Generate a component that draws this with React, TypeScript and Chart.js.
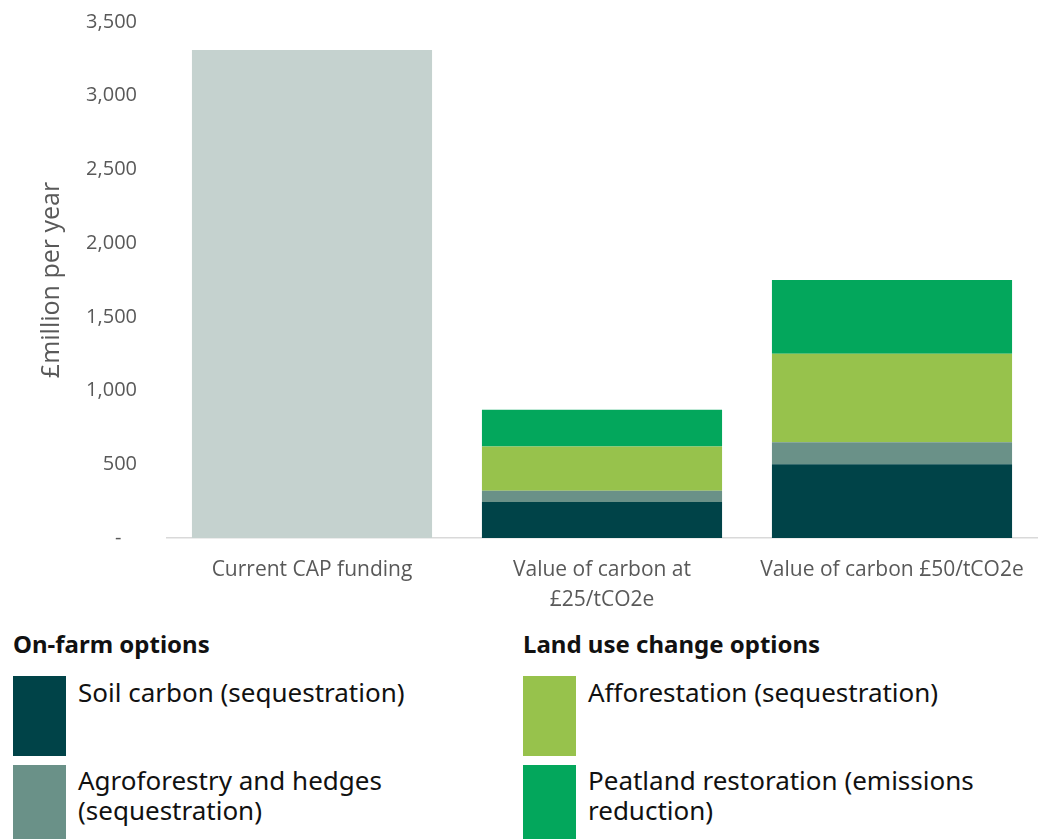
import React, { useEffect, useRef } from "react";
import { Chart, registerables } from "chart.js";

Chart.register(...registerables);

const categories: (string | string[])[] = [
  "Current CAP funding",
  ["Value of carbon at", "£25/tCO2e"],
  "Value of carbon £50/tCO2e",
];
const capFunding = [3310, null, null];
const soilCarbon = [null, 245, 500];
const agroforestry = [null, 75, 150];
const afforestation = [null, 300, 600];
const peatland = [null, 250, 500];

const yTicks = [0, 500, 1000, 1500, 2000, 2500, 3000, 3500];

const C_CAP = "#c5d2cf";
const C_SOIL = "#004348";
const C_AGRO = "#6a9188";
const C_AFF = "#97c24c";
const C_PEAT = "#03a75c";

const AXIS_FONT = "'Open Sans', 'Noto Sans', sans-serif";
const LEGEND_FONT = "'Noto Sans', 'Open Sans', sans-serif";

export default function App() {
  const ref = useRef<HTMLCanvasElement | null>(null);

  useEffect(() => {
    document.body.style.margin = "0";
    if (!ref.current) return;
    const chart = new Chart(ref.current, {
      type: "bar",
      data: {
        labels: categories,
        datasets: [
          { label: "Current CAP funding", data: capFunding, backgroundColor: C_CAP },
          { label: "Soil carbon (sequestration)", data: soilCarbon, backgroundColor: C_SOIL },
          { label: "Agroforestry and hedges (sequestration)", data: agroforestry, backgroundColor: C_AGRO },
          { label: "Afforestation (sequestration)", data: afforestation, backgroundColor: C_AFF },
          { label: "Peatland restoration (emissions reduction)", data: peatland, backgroundColor: C_PEAT },
        ],
      },
      options: {
        responsive: false,
        animation: false,
        layout: { padding: { top: 0, right: 11, left: 0, bottom: 0 } },
        plugins: { legend: { display: false }, tooltip: { enabled: false } },
        datasets: { bar: { barPercentage: 0.828, categoryPercentage: 1 } },
        scales: {
          x: {
            stacked: true,
            grid: { display: false, drawTicks: false },
            border: { display: true, color: "#d9d9d9", width: 1.5 },
            ticks: {
              color: "#595959",
              font: { family: AXIS_FONT, size: 21, lineHeight: 1.43 },
              padding: 17,
              maxRotation: 0,
              autoSkip: false,
            },
            afterFit: (s: any) => {
              s.height = 72;
            },
          },
          y: {
            stacked: true,
            min: 0,
            max: 3500,
            afterBuildTicks: (s: any) => {
              s.ticks = yTicks.map((v) => ({ value: v }));
            },
            grid: { display: false, drawTicks: false },
            border: { display: false },
            ticks: {
              color: "#595959",
              font: { family: AXIS_FONT, size: 20 },
              padding: 30,
              callback: (v: any) => (Number(v) === 0 ? "-   " : Number(v).toLocaleString("en-GB")),
            },
            title: {
              display: true,
              text: "£million per year",
              color: "#595959",
              font: { family: AXIS_FONT, size: 25 },
              padding: { top: 37, bottom: 0 },
            },
            afterFit: (s: any) => {
              s.width = 167;
            },
          },
        },
      },
    });
    return () => chart.destroy();
  }, []);

  const headerStyle: React.CSSProperties = {
    position: "absolute",
    fontFamily: LEGEND_FONT,
    fontWeight: "bold",
    fontSize: 24,
    lineHeight: "30px",
    color: "#111",
    whiteSpace: "nowrap",
  };
  const textStyle: React.CSSProperties = {
    position: "absolute",
    fontFamily: LEGEND_FONT,
    fontSize: 26,
    lineHeight: "30px",
    color: "#111",
    whiteSpace: "nowrap",
  };
  const sw = (left: number, top: number, h: number, c: string): React.CSSProperties => ({
    position: "absolute",
    left,
    top,
    width: 53,
    height: h,
    background: c,
  });

  return (
    <div style={{ position: "relative", width: 1048, height: 839, overflow: "hidden", background: "#fff" }}>
      <canvas ref={ref} width={1048} height={630} style={{ position: "absolute", left: 0, top: -20, width: 1048, height: 630 }} />
      <div style={{ ...headerStyle, left: 13, top: 629 }}>On-farm options</div>
      <div style={{ ...headerStyle, left: 523, top: 629 }}>Land use change options</div>

      <div style={sw(13, 676, 80, C_SOIL)} />
      <div style={{ ...textStyle, left: 78, top: 677 }}>Soil carbon (sequestration)</div>
      <div style={sw(13, 765, 80, C_AGRO)} />
      <div style={{ ...textStyle, left: 78, top: 765 }}>
        Agroforestry and hedges
        <br />
        (sequestration)
      </div>

      <div style={sw(523, 676, 80, C_AFF)} />
      <div style={{ ...textStyle, left: 588, top: 677 }}>Afforestation (sequestration)</div>
      <div style={sw(523, 765, 80, C_PEAT)} />
      <div style={{ ...textStyle, left: 588, top: 765 }}>
        Peatland restoration (emissions
        <br />
        reduction)
      </div>
    </div>
  );
}
